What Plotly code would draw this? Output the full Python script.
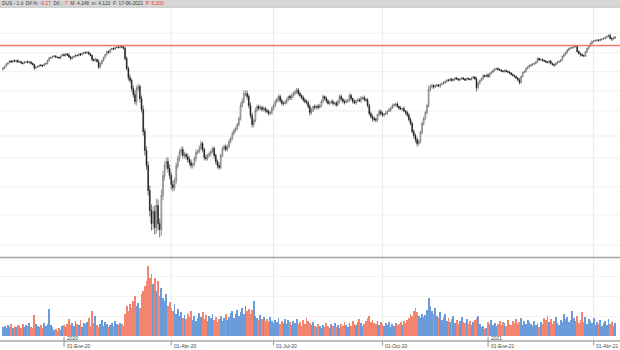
import plotly.graph_objects as go
import pandas as pd

# ---------------- data ----------------
holidays = ["2019-12-25", "2019-12-26", "2020-01-01", "2020-04-10", "2020-04-13",
            "2020-05-01", "2020-12-25", "2021-01-01", "2021-04-02", "2021-04-05"]
dates = [d for d in pd.bdate_range("2019-11-07", "2021-04-23")
         if d.strftime("%Y-%m-%d") not in holidays]

closes = [
    4.975, 4.99, 5.015, 5.03, 5.045, 5.035, 5.05, 5.04, 5.05, 5.035,
    5.04, 5.025, 5.02, 5.035, 5.04, 5.03, 5.035, 5.02, 5.01, 4.975,
    4.985, 4.99, 5.005, 5.0, 4.995, 5.015, 5.02, 5.05, 5.075, 5.08,
    5.09, 5.095, 5.085, 5.08, 5.075, 5.095, 5.11, 5.1, 5.115, 5.105,
    5.085, 5.07, 5.085, 5.09, 5.105, 5.1, 5.115, 5.105, 5.12, 5.13,
    5.125, 5.132, 5.115, 5.1, 5.06, 5.05, 5.06, 5.04, 4.985, 5.02,
    5.05, 5.08, 5.11, 5.14, 5.13, 5.16, 5.17, 5.165, 5.18, 5.185,
    5.18, 5.19, 5.185, 5.17, 5.07, 4.97, 4.88, 4.85, 4.77, 4.71,
    4.64, 4.77, 4.79, 4.67, 4.56, 4.34, 4.15, 4.0, 3.75, 3.55,
    3.42, 3.54, 3.38, 3.6, 3.42, 3.36, 3.7, 3.9, 4.0, 4.04,
    3.97, 3.9, 3.81, 3.78, 3.85, 4.0, 4.07, 4.13, 4.16, 4.1,
    4.11, 4.09, 4.06, 4.03, 4.0, 4.01, 4.07, 4.13, 4.14, 4.17,
    4.22, 4.16, 4.08, 4.07, 4.1, 4.12, 4.14, 4.17, 4.1, 4.04,
    4.0, 3.98, 4.1, 4.17, 4.19, 4.16, 4.19, 4.24, 4.27, 4.32,
    4.35, 4.37, 4.41, 4.47, 4.6, 4.64, 4.72, 4.72, 4.69, 4.6,
    4.5, 4.41, 4.45, 4.55, 4.59, 4.57, 4.58, 4.56, 4.57, 4.55,
    4.54, 4.52, 4.53, 4.57, 4.6, 4.64, 4.66, 4.69, 4.65, 4.62,
    4.62, 4.635, 4.66, 4.69, 4.675, 4.7, 4.72, 4.735, 4.755, 4.72,
    4.7, 4.68, 4.655, 4.64, 4.63, 4.59, 4.53, 4.555, 4.59, 4.58,
    4.595, 4.58, 4.6, 4.64, 4.69, 4.67, 4.645, 4.62, 4.635, 4.64,
    4.62, 4.625, 4.605, 4.64, 4.69, 4.665, 4.64, 4.63, 4.645, 4.655,
    4.7, 4.67, 4.64, 4.625, 4.65, 4.655, 4.645, 4.675, 4.68, 4.66,
    4.655, 4.6, 4.52, 4.49, 4.47, 4.46, 4.455, 4.51, 4.54, 4.52,
    4.505, 4.515, 4.525, 4.545, 4.555, 4.575, 4.6, 4.61, 4.615, 4.59,
    4.575, 4.565, 4.57, 4.545, 4.53, 4.505, 4.46, 4.42, 4.34, 4.3,
    4.26, 4.22, 4.24, 4.33, 4.42, 4.47, 4.53, 4.6, 4.76, 4.79,
    4.8, 4.785, 4.795, 4.805, 4.795, 4.81, 4.82, 4.825, 4.84, 4.855,
    4.85, 4.865, 4.85, 4.86, 4.875, 4.865, 4.855, 4.865, 4.875, 4.865,
    4.855, 4.87, 4.865, 4.86, 4.875, 4.885, 4.865, 4.78, 4.82, 4.85,
    4.87, 4.9, 4.89, 4.905, 4.89, 4.92, 4.935, 4.95, 4.965, 4.97,
    4.96, 4.955, 4.945, 4.94, 4.95, 4.94, 4.935, 4.925, 4.91, 4.9,
    4.89, 4.875, 4.855, 4.83, 4.89, 4.93, 4.94, 4.97, 4.985, 5.0,
    5.005, 5.015, 5.02, 5.035, 5.07, 5.055, 5.06, 5.05, 5.045, 5.035,
    5.03, 5.045, 5.02, 5.01, 5.005, 5.02, 5.035, 5.04, 5.055, 5.09,
    5.11, 5.13, 5.155, 5.17, 5.175, 5.18, 5.19, 5.195, 5.14, 5.12,
    5.11, 5.1, 5.095, 5.135, 5.17, 5.195, 5.22, 5.24, 5.245, 5.25,
    5.255, 5.25, 5.26, 5.265, 5.27, 5.28, 5.29, 5.3, 5.27, 5.265, 5.275, 5.285,
]
first_open = 4.96

# upper / lower shadow lengths, in hundredths
wick_up = [
    1,1,1,0,1,1,0,1,1,1, 1,0,1,1,0,1,1,1,1,1, 1,1,0,1,1,1,1,1,1,1, 1,1,1,0,1,1,1,1,1,1,
    2,1,1,1,1,0,1,1,1,1, 1,1,1,1,1,1,2,1,2,1, 1,1,1,1,1,1,1,1,1,1, 1,1,1,2,2,2,2,3,2,3,
    4,3,3,2,3,4,3,4,4,5, 6,5,6,7,6,5,6,5,4,4, 4,4,3,4,3,3,3,3,3,3, 3,2,3,3,3,2,2,3,2,3,
    3,2,2,3,2,2,2,2,2,2, 2,3,2,2,2,2,2,2,2,2, 2,2,2,2,3,3,3,3,3,2, 3,3,2,3,2,2,2,2,2,2,
    2,2,2,2,2,2,2,2,2,2, 2,2,2,1,2,2,2,2,2,2, 2,1,2,2,2,2,2,2,1,2, 1,2,2,2,2,1,2,2,1,2,
    2,1,2,2,2,2,1,2,2,1, 2,2,1,2,1,2,2,2,1,2, 1,2,2,2,2,2,2,1,2,2, 2,1,2,1,2,1,2,1,1,2,
    1,2,1,2,1,2,2,2,2,2, 2,2,2,2,2,2,2,2,4,2, 2,1,2,1,1,1,1,2,1,1, 1,1,1,1,1,1,1,1,1,1,
    1,1,1,1,1,1,1,2,2,1, 1,1,1,1,2,1,1,1,1,1, 1,1,1,1,1,1,1,1,1,1, 1,1,1,2,1,1,1,1,1,1,
    1,1,1,1,1,1,1,1,1,1, 1,1,1,1,1,1,1,1,1,1, 1,1,1,1,1,1,1,1,1,1, 1,1,1,1,1,1,1,1,1,1,
    1,1,1,1,1,1,1,1,2,1,1,1,
]
wick_dn = [
    1,1,0,1,1,1,1,0,1,1, 1,1,1,0,1,1,1,1,1,2, 1,1,1,1,1,0,1,1,1,1, 1,1,1,1,1,1,0,1,1,1,
    1,2,1,1,1,1,1,1,0,1, 1,1,1,1,2,1,1,1,2,1, 1,1,1,1,1,1,1,1,1,1, 1,1,1,1,2,2,3,2,3,3,
    3,4,3,4,3,4,5,4,5,6, 7,6,7,6,7,8,6,5,5,4, 4,4,5,4,3,4,3,3,3,3, 3,3,3,3,3,3,2,3,2,2,
    2,3,3,2,2,2,3,2,3,3, 3,2,2,2,2,2,2,2,2,2, 2,2,2,2,2,2,2,3,3,3, 3,3,3,2,2,2,2,2,2,2,
    2,2,2,2,2,2,2,2,2,2, 2,1,2,2,2,2,2,2,2,2, 2,2,2,2,2,2,3,2,2,2, 2,2,1,2,2,2,2,1,2,2,
    2,2,2,1,2,2,2,2,1,2, 2,2,2,1,2,2,1,2,2,2, 2,2,2,2,3,2,2,2,2,2, 2,2,1,2,1,2,1,2,2,1,
    2,1,2,1,2,2,2,2,2,3, 3,3,2,2,2,2,2,2,2,2, 2,2,1,1,1,2,1,1,1,1, 1,1,1,1,1,1,1,1,1,1,
    1,1,1,1,1,1,1,4,2,1, 1,1,1,1,1,1,1,1,1,1, 1,1,1,1,1,1,1,1,1,1, 1,1,1,2,1,1,1,1,1,1,
    1,1,1,1,1,1,1,1,1,1, 1,1,1,1,2,1,1,1,1,1, 1,1,1,1,1,1,1,1,1,1, 2,1,1,1,1,1,1,1,1,1,
    1,1,1,1,1,1,1,1,1,2,1,1,
]

volume = [
    9,10,8,11,9,12,8,10,9,11, 10,8,12,9,11,10,13,9,8,21, 12,10,9,11,8,13,10,12,27,11,
    9,6,7,5,8,6,10,11,9,12, 17,11,13,10,15,12,11,16,9,13, 12,14,18,10,25,13,20,11,9,12,
    16,10,14,12,9,11,13,10,15,12, 11,13,12,10,22,30,25,32,28,35, 40,30,33,28,42,45,50,55,70,58,
    62,52,58,45,55,40,48,38,35,42, 30,34,28,25,32,22,27,20,24,18, 21,17,22,19,25,16,20,15,18,23,
    19,24,17,21,15,20,18,22,16,19, 14,17,20,15,18,22,16,19,23,25, 18,22,26,20,24,28,22,30,25,27,
    22,26,35,20,18,16,21,17,19,15, 17,14,19,15,13,16,14,18,12,15, 13,17,12,16,14,11,15,13,17,12,
    14,10,16,12,18,15,13,11,14,10, 9,12,10,8,11,9,13,10,8,12, 10,13,9,11,8,12,10,14,11,9,
    13,10,15,12,11,14,17,13,10,12, 15,18,20,14,16,13,12,15,11,14, 12,10,13,11,14,9,12,10,13,11,
    12,14,11,15,13,16,18,22,20,25, 28,24,20,18,22,19,21,26,38,30, 25,22,28,20,18,24,16,19,22,15,
    18,14,17,20,13,16,12,15,19,14, 13,17,12,15,11,14,16,18,20,12, 9,10,7,8,14,12,16,11,13,10,
    12,15,11,14,13,10,16,12,11,15, 13,17,12,14,18,11,15,12,16,14, 12,10,15,11,13,9,14,12,18,16,
    20,14,17,12,15,19,13,11,16,14, 22,17,19,14,16,25,18,15,20,13, 16,24,14,19,12,17,15,13,18,11,
    14,12,16,10,13,15,11,17,12,14,10,13,
]

quarter_starts = ["2020-01-01", "2020-04-01", "2020-07-01", "2020-10-01", "2021-01-01", "2021-04-01"]
quarter_labels = ["01-Ene-20", "01-Abr-20", "01-Jul-20", "01-Oct-20", "01-Ene-21", "01-Abr-21"]
year_labels = {"2020-01-01": "2020", "2021-01-01": "2021"}
resistance = 5.2
price_grid = [5.322, 5.128, 4.938, 4.745, 4.545, 4.295, 4.075, 3.788, 3.505, 3.205]

header_parts = [("DUS - 1 d  Dif.%: ", "#3a3a3a"), ("-0.17", "#e8322a"), ("  Dif.: ", "#3a3a3a"),
                ("-7", "#e8322a"), ("  M: 4.148  m: 4.123  F: 17-06-2021  ", "#3a3a3a"),
                ("P: 5.200", "#e8322a")]

# ---------------- derived ----------------
n = min(len(dates), len(closes), len(volume), len(wick_up), len(wick_dn))
idx = list(range(n))
closes = closes[:n]
opens = [first_open] + closes[:n - 1]
highs = [max(o, c) + u / 100 for o, c, u in zip(opens, closes, wick_up)]
lows = [min(o, c) - d / 100 for o, c, d in zip(opens, closes, wick_dn)]
vol_colors = ["#6b9bd8" if c >= o else "#f3846f" for o, c in zip(opens, closes)]

date_str = [d.strftime("%Y-%m-%d") for d in dates[:n]]
def first_index_on_or_after(s):
    for k, ds in enumerate(date_str):
        if ds >= s:
            return k
    return n - 1
tick_idx = [first_index_on_or_after(q) for q in quarter_starts]

# ---------------- figure ----------------
H = 350.0
def py(px):
    return (H - px) / H

fig = go.Figure()
fig.add_trace(go.Candlestick(
    x=idx, open=opens, high=highs, low=lows, close=closes,
    increasing=dict(line=dict(color="#555555", width=0.6), fillcolor="#ffffff"),
    decreasing=dict(line=dict(color="#111111", width=0.6), fillcolor="#111111"),
    whiskerwidth=0, yaxis="y", xaxis="x", showlegend=False, hoverinfo="skip"))
fig.add_trace(go.Bar(
    x=idx, y=volume[:n], marker=dict(color=vol_colors, line=dict(width=0)),
    width=0.5, yaxis="y2", xaxis="x", showlegend=False, hoverinfo="skip"))

x_lo, x_hi = -1.79, 373.97
shapes = []
# header band
shapes.append(dict(type="rect", xref="paper", yref="paper", x0=0, x1=1, y0=py(7), y1=1,
                   fillcolor="#d6d6d6", line=dict(width=0), layer="below"))
shapes.append(dict(type="line", xref="paper", yref="paper", x0=0, x1=1, y0=py(7.3), y1=py(7.3),
                   line=dict(color="#b8b8b8", width=0.8)))
# vertical grid lines (non-year quarters)
for q, k in zip(quarter_starts, tick_idx):
    if q in year_labels:
        continue
    shapes.append(dict(type="line", xref="x", yref="paper", x0=k + 1, x1=k + 1, y0=py(341), y1=py(8),
                       line=dict(color="#ebebeb", width=1), layer="below"))
# horizontal price grid
for g in price_grid:
    shapes.append(dict(type="line", xref="paper", yref="y", x0=0, x1=1, y0=g, y1=g,
                       line=dict(color="#efefef", width=1), layer="below"))
# resistance line
shapes.append(dict(type="line", xref="paper", yref="y", x0=0, x1=1, y0=resistance, y1=resistance,
                   line=dict(color="#f37a62", width=1.6)))
# panel separator and bottom axis line
shapes.append(dict(type="line", xref="paper", yref="paper", x0=0, x1=1, y0=py(257.5), y1=py(257.5),
                   line=dict(color="#a4a4a4", width=1.5)))
shapes.append(dict(type="line", xref="paper", yref="paper", x0=0, x1=1, y0=py(341), y1=py(341),
                   line=dict(color="#a8a8a8", width=1.5)))
# tick marks
for q, k in zip(quarter_starts, tick_idx):
    if q in year_labels:
        shapes.append(dict(type="line", xref="x", yref="paper", x0=k, x1=k, y0=py(347), y1=py(337),
                           line=dict(color="#777777", width=0.8)))
    else:
        shapes.append(dict(type="line", xref="x", yref="paper", x0=k + 1, x1=k + 1, y0=py(345.5), y1=py(341.5),
                           line=dict(color="#777777", width=0.8)))

annotations = []
header_html = "".join('<span style="color:%s">%s</span>' % (c, t.replace(" ", "&nbsp;"))
                      for t, c in header_parts)
annotations.append(dict(xref="paper", yref="paper", x=0, y=py(3.6), xanchor="left", yanchor="middle",
                        text=header_html, showarrow=False,
                        font=dict(family="Liberation Sans, Arial, sans-serif", size=4.8, color="#3a3a3a")))
for q, lab, k in zip(quarter_starts, quarter_labels, tick_idx):
    kk = k if q in year_labels else k + 1
    annotations.append(dict(xref="x", yref="paper", x=kk, y=py(346), xanchor="left", yanchor="middle",
                            xshift=0.5, text=lab, showarrow=False,
                            font=dict(family="Liberation Sans, Arial, sans-serif", size=5, color="#444444")))
for q, k in zip(quarter_starts, tick_idx):
    if q in year_labels:
        annotations.append(dict(xref="x", yref="paper", x=k, y=py(338), xanchor="left", yanchor="middle",
                                xshift=0.5, text=year_labels[q], showarrow=False,
                                font=dict(family="Liberation Sans, Arial, sans-serif", size=5, color="#444444")))

fig.update_layout(
    width=620, height=350, autosize=False,
    margin=dict(l=0, r=0, t=0, b=0, pad=0),
    paper_bgcolor="white", plot_bgcolor="rgba(0,0,0,0)",
    xaxis=dict(range=[x_lo, x_hi], showticklabels=False, showgrid=False, zeroline=False,
               showline=False, rangeslider=dict(visible=False), fixedrange=True),
    yaxis=dict(domain=[py(257), py(8)], range=[5.655 - 2.57, 5.655 - 0.08], showticklabels=False,
               showgrid=False, zeroline=False, fixedrange=True),
    yaxis2=dict(domain=[py(336), py(259)], range=[0, 77], showticklabels=False,
                showgrid=True, gridcolor="#f3f3f3", dtick=20, zeroline=False, fixedrange=True),
    bargap=0, shapes=shapes, annotations=annotations,
)

fig.write_html("out.html")
